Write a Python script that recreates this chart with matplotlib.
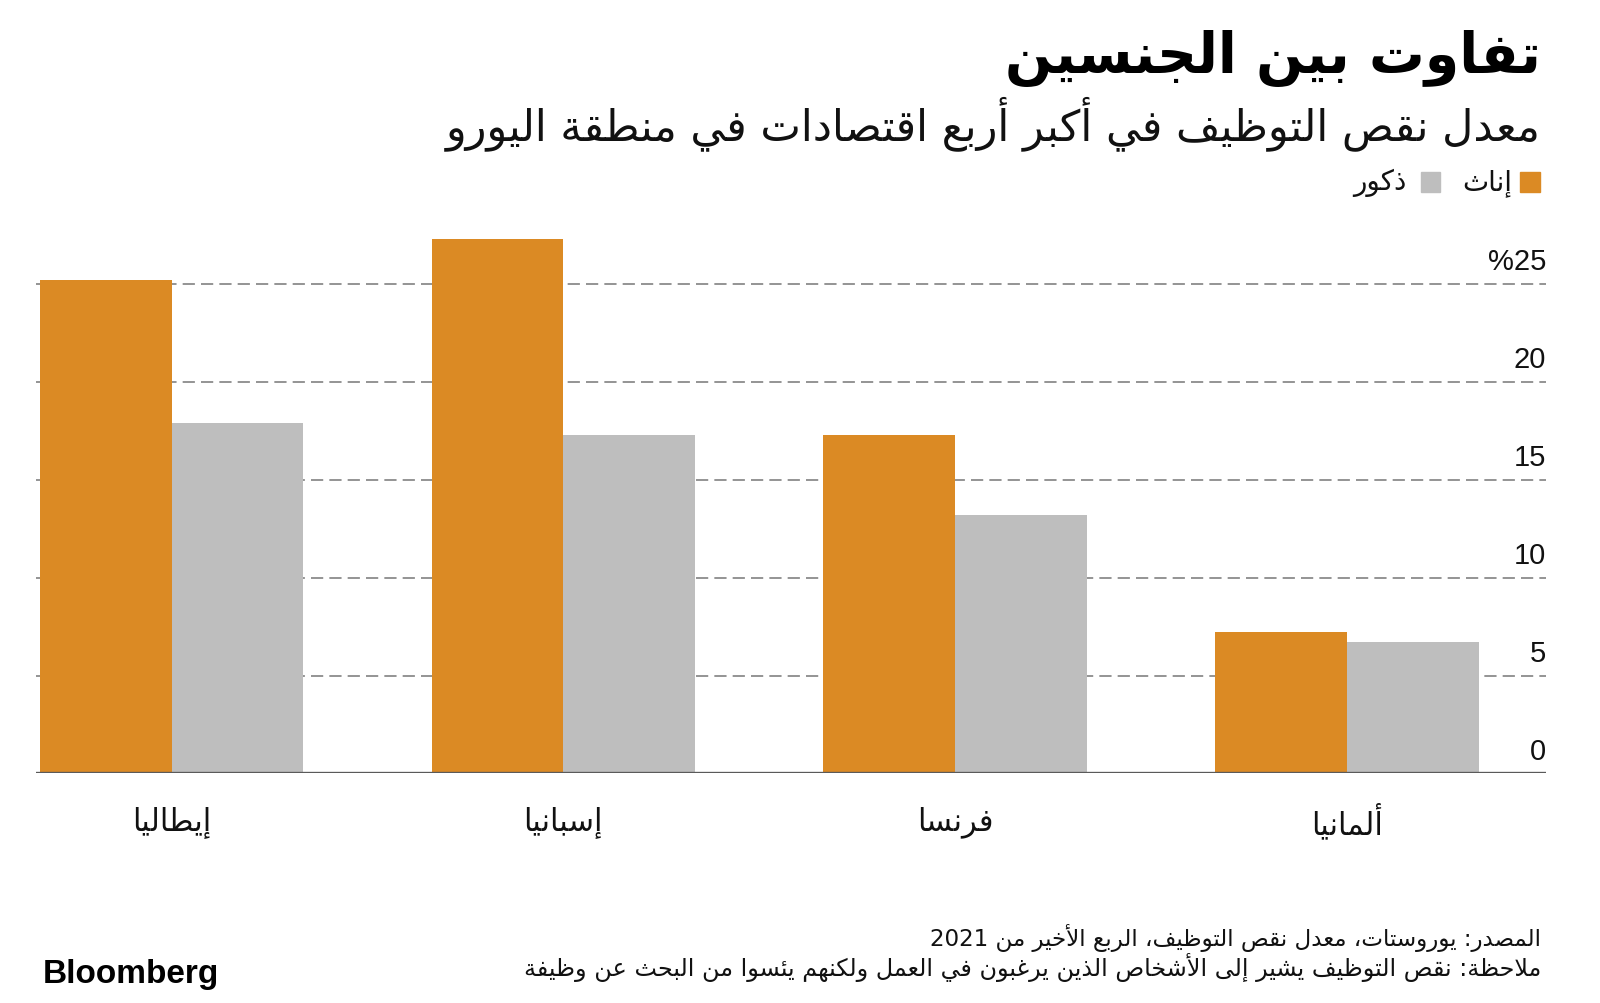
import re
import numpy as np
import matplotlib
matplotlib.use('Agg')
import matplotlib.pyplot as plt
from matplotlib.patches import Rectangle
from matplotlib.transforms import blended_transform_factory

# data
countries = ['إيطاليا', 'إسبانيا', 'فرنسا', 'ألمانيا']
female = [25.2, 27.3, 17.3, 7.2]
male = [17.9, 17.3, 13.2, 6.7]
y_ticks = [0, 5, 10, 15, 20, 25]
y_tick_labels = ['0', '5', '10', '15', '20', '%25']

title = 'تفاوت بين الجنسين'
subtitle = 'معدل نقص التوظيف في أكبر أربع اقتصادات في منطقة اليورو'
legend_labels = ['إناث', 'ذكور']
source = 'المصدر: يوروستات، معدل نقص التوظيف، الربع الأخير من 2021'
note = 'ملاحظة: نقص التوظيف يشير إلى الأشخاص الذين يرغبون في العمل ولكنهم يئسوا من البحث عن وظيفة'

ORANGE = '#DB8A24'
GREY = '#BEBEBE'

# matplotlib does no arabic shaping, so do a small one by hand
# (isolated, final, initial, medial) presentation forms
FORMS = {}
for ch, base, n in [('ء', 0xFE80, 1), ('آ', 0xFE81, 2), ('أ', 0xFE83, 2), ('ؤ', 0xFE85, 2),
                    ('إ', 0xFE87, 2), ('ئ', 0xFE89, 4), ('ا', 0xFE8D, 2), ('ب', 0xFE8F, 4),
                    ('ة', 0xFE93, 2), ('ت', 0xFE95, 4), ('ث', 0xFE99, 4), ('ج', 0xFE9D, 4),
                    ('ح', 0xFEA1, 4), ('خ', 0xFEA5, 4), ('د', 0xFEA9, 2), ('ذ', 0xFEAB, 2),
                    ('ر', 0xFEAD, 2), ('ز', 0xFEAF, 2), ('س', 0xFEB1, 4), ('ش', 0xFEB5, 4),
                    ('ص', 0xFEB9, 4), ('ض', 0xFEBD, 4), ('ط', 0xFEC1, 4), ('ظ', 0xFEC5, 4),
                    ('ع', 0xFEC9, 4), ('غ', 0xFECD, 4), ('ف', 0xFED1, 4), ('ق', 0xFED5, 4),
                    ('ك', 0xFED9, 4), ('ل', 0xFEDD, 4), ('م', 0xFEE1, 4), ('ن', 0xFEE5, 4),
                    ('ه', 0xFEE9, 4), ('و', 0xFEED, 2), ('ى', 0xFEEF, 2), ('ي', 0xFEF1, 4)]:
    FORMS[ch] = [chr(base + i) for i in range(n)]
LAM_ALEF = {'آ': (0xFEF5, 0xFEF6), 'أ': (0xFEF7, 0xFEF8),
            'إ': (0xFEF9, 0xFEFA), 'ا': (0xFEFB, 0xFEFC)}


def shape(text):
    out = []
    i = 0
    n = len(text)
    while i < n:
        c = text[i]
        if c not in FORMS:
            out.append(c)
            i += 1
            continue
        prev = text[i - 1] if i > 0 else ''
        joins_prev = prev in FORMS and len(FORMS[prev]) == 4
        if c == 'ل' and i + 1 < n and text[i + 1] in LAM_ALEF:
            iso, fin = LAM_ALEF[text[i + 1]]
            out.append(chr(fin if joins_prev else iso))
            i += 2
            continue
        f = FORMS[c]
        nxt = text[i + 1] if i + 1 < n else ''
        joins_next = len(f) == 4 and nxt in FORMS
        if len(f) == 1:
            out.append(f[0])
        elif joins_prev and joins_next:
            out.append(f[3])
        elif joins_prev:
            out.append(f[1])
        elif joins_next:
            out.append(f[2])
        else:
            out.append(f[0])
        i += 1
    return ''.join(out)


def ar(text):
    # shape, then flip to visual order but keep numbers left to right
    s = shape(text)[::-1]
    return re.sub(r'[0-9A-Za-z]+', lambda m: m.group(0)[::-1], s)


AR_FONT = 'DejaVu Sans'
NUM_FONT = 'Liberation Sans'

fig = plt.figure(figsize=(16, 10.04), dpi=100)
ax = fig.add_axes([0.0225, 0.2286, 0.9437, 0.5463])

x = np.arange(len(countries))
w = 0.336
ax.bar(x - w / 2, female, w, color=ORANGE, zorder=2)
ax.bar(x + w / 2, male, w, color=GREY, zorder=2)

for v in y_ticks[1:]:
    ax.axhline(v, color='#777777', lw=1.1, dashes=(8, 4), zorder=1)
ax.axhline(0, color='#5a5a5a', lw=2.4, zorder=3)

ax.set_xlim(-0.346, 3.508)
ax.set_ylim(0, 28)
ax.axis('off')

ytrans = ax.get_yaxis_transform()
for v, lab in zip(y_ticks, y_tick_labels):
    ax.text(1.0, v + 0.45, lab, transform=ytrans, ha='right', va='bottom',
            fontsize=21, family=NUM_FONT, color='#111111')

xtrans = blended_transform_factory(ax.transData, fig.transFigure)
for xi, name in zip(x, countries):
    fig.text(xi, 0.181, ar(name), transform=xtrans, ha='center', va='center',
             fontsize=22, family=AR_FONT, color='#111111')

# titles
fig.text(0.963, 0.942, ar(title), ha='right', va='center', fontsize=40,
         fontweight='bold', family=AR_FONT, color='#000000')
fig.text(0.963, 0.877, ar(subtitle), ha='right', va='center', fontsize=31,
         family=AR_FONT, color='#111111')

# legend
sq = 0.0122
fig.patches.append(Rectangle((0.950, 0.808), sq, sq * 1.6, color=ORANGE,
                             transform=fig.transFigure, figure=fig))
fig.text(0.945, 0.818, ar(legend_labels[0]), ha='right', va='center', fontsize=20,
         family=AR_FONT, color='#111111')
fig.patches.append(Rectangle((0.888, 0.808), sq, sq * 1.6, color=GREY,
                             transform=fig.transFigure, figure=fig))
fig.text(0.879, 0.818, ar(legend_labels[1]), ha='right', va='center', fontsize=20,
         family=AR_FONT, color='#111111')

# footer
fig.text(0.963, 0.066, ar(source), ha='right', va='center', fontsize=16.6,
         family=AR_FONT, color='#111111')
fig.text(0.963, 0.036, ar(note), ha='right', va='center', fontsize=17.2,
         family=AR_FONT, color='#111111')
fig.text(0.027, 0.029, 'Bloomberg', ha='left', va='center', fontsize=24,
         fontweight='bold', family=NUM_FONT, color='#000000')

fig.savefig('out.png', dpi=100, facecolor='white')
